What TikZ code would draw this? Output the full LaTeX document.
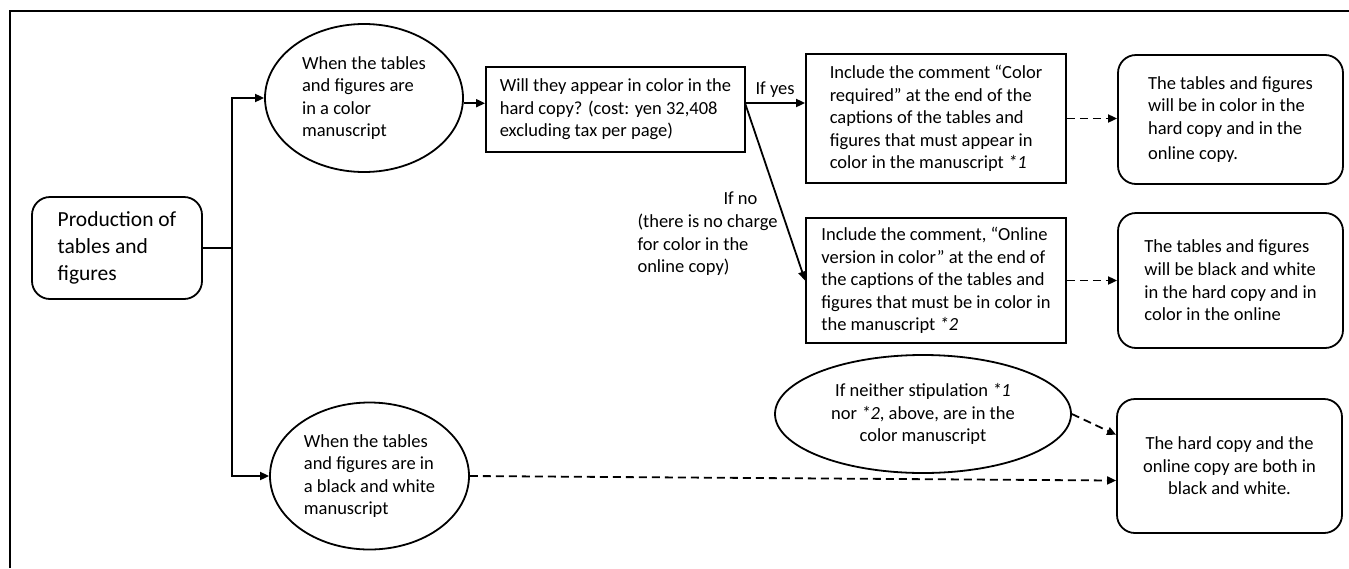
\documentclass[tikz,border=0pt]{standalone}
\usepackage{fontspec}
\setmainfont{Carlito}
\usetikzlibrary{shapes.geometric,arrows.meta,calc}
\begin{document}
\begin{tikzpicture}[x=1pt,y=-1pt,
  every node/.style={font=\fontsize{18.5}{22.6}\selectfont},
  base/.style={draw,line width=1.8pt,inner sep=0pt,align=left},
  rbox/.style={base,rectangle},
  rrbox/.style={base,rectangle,rounded corners=18pt},
  oval/.style={base,ellipse},
  arr/.style={line width=1.8pt,-{Triangle[length=9pt,width=8pt]}},
  darr/.style={arr,dash pattern=on 8pt off 5pt},
  lab/.style={align=left,inner sep=0pt}
]
\useasboundingbox (0,0) rectangle (1349,568);
\draw[line width=2pt] (10,568) -- (10,11) -- (1349,11);

\node[rrbox,minimum width=170,minimum height=102,font=\fontsize{21.5}{27}\selectfont] (prod) at (117,248) {Production of\\tables and\\figures};
\node[oval,minimum width=198,minimum height=148] (ell1) at (364,98) {When the tables\\and figures are\\in a color\\manuscript};
\node[oval,minimum width=199,minimum height=147] (ell2) at (369.5,476) {When the tables\\and figures are in\\a black and white\\manuscript};
\node[rbox,minimum width=259,minimum height=85] (q) at (615.5,109.5) {Will they appear in color in the\\hard copy? (cost: yen 32,408\\excluding tax per page)};
\node[rbox,minimum width=260,minimum height=129] (yes) at (936,118.5) {Include the comment “Color\\required” at the end of the\\captions of the tables and\\figures that must appear in\\color in the manuscript \textit{*1}};
\node[rbox,minimum width=260,minimum height=125] (no) at (936,280.5) {Include the comment, “Online\\version in color” at the end of\\the captions of the tables and\\figures that must be in color in\\the manuscript \textit{*2}};
\node[rrbox,minimum width=225,minimum height=129] (res1) at (1230.5,119.5) {The tables and figures\\will be in color in the\\hard copy and in the\\[3pt]online copy.};
\node[rrbox,minimum width=225,minimum height=135] (res2) at (1230.5,280.5) {The tables and figures\\will be black and white\\in the hard copy and in\\color in the online};
\node[rrbox,align=center,minimum width=225,minimum height=134] (res3) at (1229.5,466) {The hard copy and the\\online copy are both in\\black and white.};
\node[oval,align=center,inner sep=-12pt,minimum width=296,minimum height=118] (ell3) at (923,414) {If neither stipulation \textit{*1}\\nor \textit{*2}, above, are in the\\color manuscript};

\coordinate (jn) at (232,248);
\draw[line width=1.8pt] (prod.east) -- (jn);
\draw[arr] (jn) |- (ell1.west);
\draw[arr] (jn) |- (ell2.west);
\draw[arr] (ell1.-3) -- (ell1.-3 -| q.west);
\coordinate (qo) at (745,103);
\draw[arr] (qo) -- (qo -| yes.west) node[midway,above=1pt] (ifyes) {If yes};
\draw[arr] (qo) -- (no.west);
\node[lab] (ifno) at (707.5,234) {\hspace*{86pt}If no\\(there is no charge\\for color in the\\online copy)};
\draw[darr] (yes.east) -- (yes.east -| res1.west);
\draw[darr] (no.east) -- (no.east -| res2.west);
\draw[darr] (ell3.east) -- ($(res3.north west)!0.27!(res3.south west)$);
\draw[darr] (ell2.east) -- ($(res3.north west)!0.607!(res3.south west)$);
\end{tikzpicture}
\end{document}
